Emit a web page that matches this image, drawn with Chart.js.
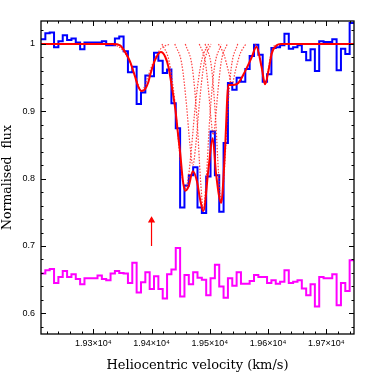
<!DOCTYPE html>
<html>
<head>
<meta charset="utf-8">
<script src="https://cdn.jsdelivr.net/npm/chart.js@4"></script>
<style>
  html, body { margin: 0; padding: 0; background: #fff; }
  #spectrum { display: block; }
</style>
</head>
<body>
<canvas id="spectrum" width="374" height="374"></canvas>
<script>
// Velocity grid of the spectrum (km/s)
const binStart = 19210.2;
const binWidth = 7.465;

// Observed normalised flux, one value per bin
const fluxObs = [
    1.007, 1.016, 1.017, 0.995, 1.004, 1.013, 1.006, 1.008, 1.002, 0.992,
    1.002, 1.002, 1.002, 1.002, 1.004, 0.998, 0.998, 1.008, 1.011, 0.989,
    0.958, 0.966, 0.911, 0.928, 0.953, 0.952, 0.987, 0.975, 0.957, 0.962,
    0.912, 0.875, 0.757, 0.790, 0.805, 0.817, 0.757, 0.749, 0.803, 0.870,
    0.805, 0.751, 0.853, 0.942, 0.932, 0.950, 0.944, 0.963, 0.982, 0.999,
    0.984, 0.944, 0.955, 0.994, 0.995, 0.998, 1.015, 0.993, 0.995, 0.998,
    0.988, 0.976, 0.992, 0.960, 1.004, 1.003, 1.003, 1.007, 0.961, 0.993,
    0.985, 1.031
];

// Residuals of the fit (shifted down to ~0.65)
const fluxResid = [
    0.659, 0.664, 0.666, 0.645, 0.654, 0.663, 0.654, 0.658, 0.651, 0.643,
    0.652, 0.652, 0.652, 0.656, 0.651, 0.649, 0.659, 0.663, 0.660, 0.659,
    0.645, 0.675, 0.631, 0.646, 0.661, 0.636, 0.655, 0.636, 0.622, 0.658,
    0.665, 0.697, 0.625, 0.657, 0.643, 0.661, 0.653, 0.650, 0.627, 0.652,
    0.672, 0.640, 0.623, 0.652, 0.641, 0.661, 0.644, 0.644, 0.648, 0.657,
    0.654, 0.654, 0.645, 0.649, 0.644, 0.647, 0.664, 0.645, 0.647, 0.649,
    0.637, 0.627, 0.643, 0.610, 0.654, 0.652, 0.652, 0.658, 0.612, 0.645,
    0.633, 0.679
];

// Total fitted profile
const modelVel = [
    19210, 19334, 19346, 19354, 19363, 19371.5, 19377, 19383, 19389, 19394,
    19398, 19406, 19416, 19423.5, 19429, 19435, 19441, 19446, 19449, 19454,
    19458, 19463.5, 19471, 19478, 19483.5, 19489, 19498, 19505, 19511, 19519.6,
    19526, 19532, 19540, 19549, 19561, 19572, 19580, 19589, 19595, 19601,
    19606.5, 19615, 19622, 19748
];
const modelFlux = [
    1.0, 1.0, 0.998, 0.989, 0.974, 0.952, 0.937, 0.930, 0.933, 0.942,
    0.955, 0.976, 0.988, 0.981, 0.966, 0.936, 0.902, 0.862, 0.840, 0.796,
    0.782, 0.788, 0.811, 0.796, 0.769, 0.752, 0.816, 0.860, 0.806, 0.764,
    0.840, 0.939, 0.939, 0.942, 0.960, 0.980, 0.996, 0.966, 0.940, 0.961,
    0.986, 0.998, 1.0, 1.0
];

// Individual absorption components [velocity, flux]
const compH = [[19330, 1], [19348, 0.993], [19362, 0.975], [19372, 0.953], [19383, 0.930], [19394, 0.952], [19404, 0.975], [19416, 0.993], [19432, 1]];
const compA = [[19418, 1], [19430, 0.975], [19440, 0.915], [19448, 0.84], [19453, 0.80], [19458, 0.785], [19463, 0.80], [19468, 0.84], [19476, 0.915], [19486, 0.975], [19498, 1]];
const compB = [[19440, 1], [19452, 0.97], [19460, 0.91], [19466, 0.85], [19471, 0.82], [19476, 0.85], [19482, 0.91], [19490, 0.97], [19502, 1]];
const compC = [[19458, 1], [19470, 0.965], [19478, 0.89], [19484, 0.80], [19489, 0.755], [19494, 0.80], [19500, 0.89], [19508, 0.965], [19520, 1]];
const compD = [[19482, 1], [19492, 0.975], [19498, 0.93], [19502, 0.89], [19506, 0.865], [19510, 0.89], [19514, 0.93], [19520, 0.975], [19530, 1]];
const compE = [[19492, 1], [19503, 0.965], [19510, 0.89], [19515, 0.81], [19520, 0.765], [19525, 0.81], [19530, 0.89], [19537, 0.965], [19548, 1]];
const compF = [[19515, 1], [19524, 0.985], [19532, 0.96], [19538, 0.94], [19544, 0.96], [19552, 0.985], [19562, 1]];
const compG = [[19578, 1], [19585, 0.985], [19590, 0.96], [19595, 0.94], [19600, 0.96], [19605, 0.985], [19612, 1]];
const components = [compH, compA, compB, compC, compD, compE, compF, compG];

// Marker arrow
const arrowVel = 19400;
const arrowFlux = [0.70, 0.738];

// Axes
const xRange = [19210.2, 19747.7];
const yRange = [0.5693, 1.0341];
const xTicks = [19300, 19400, 19500, 19600, 19700];
const yTicks = [0.6, 0.7, 0.8, 0.9, 1];

function histPoints(values) {
    const pts = values.map((f, i) => ({ x: binStart + i * binWidth, y: f }));
    pts.push({ x: binStart + values.length * binWidth, y: values[values.length - 1] });
    return pts;
}

// box and inward ticks on all four sides
const frameTicks = {
    id: 'frameTicks',
    afterDatasetsDraw(chart) {
        const { ctx, chartArea: a, scales: { x, y } } = chart;
        ctx.save();
        ctx.strokeStyle = '#000';
        ctx.lineWidth = 1;
        ctx.beginPath();
        for (let v = 19220; v <= 19740; v += 20) {
            const px = Math.round(x.getPixelForValue(v)) + 0.5;
            const len = v % 100 === 0 ? 5 : 2.5;
            ctx.moveTo(px, a.bottom); ctx.lineTo(px, a.bottom - len);
            ctx.moveTo(px, a.top); ctx.lineTo(px, a.top + len);
        }
        for (let k = 29; k <= 51; k++) {
            const py = Math.round(y.getPixelForValue(k * 0.02)) + 0.5;
            const len = k % 5 === 0 ? 5 : 2.5;
            ctx.moveTo(a.left, py); ctx.lineTo(a.left + len, py);
            ctx.moveTo(a.right, py); ctx.lineTo(a.right - len, py);
        }
        ctx.stroke();
        ctx.lineWidth = 1.3;
        ctx.strokeRect(a.left, a.top, a.right - a.left, a.bottom - a.top);
        ctx.restore();
    }
};

const componentSets = components.map((c) => ({
    data: c.map(([v, f]) => ({ x: v, y: f })),
    borderColor: 'rgba(255, 30, 30, 0.85)',
    borderWidth: 1.2,
    borderDash: [1.5, 1.5],
    pointRadius: 0,
    cubicInterpolationMode: 'monotone',
    order: 1
}));

const tickFont = { family: 'Liberation Sans', size: 9 };

const ctx = document.getElementById('spectrum').getContext('2d');
const spectrumChart = new Chart(ctx, {
    type: 'line',
    data: {
        datasets: [
            {
                data: modelVel.map((v, i) => ({ x: v, y: modelFlux[i] })),
                borderColor: '#ff0000',
                borderWidth: 2,
                pointRadius: 0,
                cubicInterpolationMode: 'monotone',
                order: 0
            },
            ...componentSets,
            {
                data: histPoints(fluxObs),
                borderColor: '#0000ff',
                borderWidth: 2,
                stepped: 'before',
                pointRadius: 0,
                order: 2
            },
            {
                data: histPoints(fluxResid),
                borderColor: '#ff00ff',
                borderWidth: 2,
                stepped: 'before',
                pointRadius: 0,
                order: 3
            },
            {
                data: arrowFlux.map((f) => ({ x: arrowVel, y: f })),
                borderColor: '#ff0000',
                backgroundColor: '#ff0000',
                borderWidth: 1.2,
                pointStyle: 'triangle',
                pointRadius: [0, 3],
                order: 0
            }
        ]
    },
    options: {
        responsive: false,
        animation: false,
        layout: { padding: { left: 0, right: 20, top: 21, bottom: 0 } },
        plugins: {
            legend: { display: false },
            tooltip: { enabled: false }
        },
        scales: {
            x: {
                type: 'linear',
                min: xRange[0],
                max: xRange[1],
                grid: { display: false, drawTicks: false },
                border: { display: false },
                afterFit: (s) => { s.height = 40; },
                afterBuildTicks: (s) => { s.ticks = xTicks.map((v) => ({ value: v })); },
                ticks: {
                    callback: (v) => (v / 1e4).toFixed(2) + '×10⁴',
                    font: tickFont,
                    color: '#000',
                    padding: 4,
                    maxRotation: 0,
                    autoSkip: false
                },
                title: {
                    display: true,
                    text: 'Heliocentric velocity (km/s)',
                    font: { family: 'DejaVu Serif', size: 13 },
                    color: '#000',
                    padding: { top: 0, bottom: 1 }
                }
            },
            y: {
                type: 'linear',
                min: yRange[0],
                max: yRange[1],
                grid: { display: false, drawTicks: false },
                border: { display: false },
                afterFit: (s) => { s.width = 41; },
                afterBuildTicks: (s) => { s.ticks = yTicks.map((v) => ({ value: v })); },
                ticks: {
                    callback: (v) => String(v),
                    font: tickFont,
                    color: '#000',
                    padding: 6
                },
                title: {
                    display: true,
                    text: 'Normalised  flux',
                    font: { family: 'DejaVu Serif', size: 12.5 },
                    color: '#000',
                    padding: { top: 0, bottom: 0 }
                }
            }
        }
    },
    plugins: [frameTicks]
});
</script>
</body>
</html>
